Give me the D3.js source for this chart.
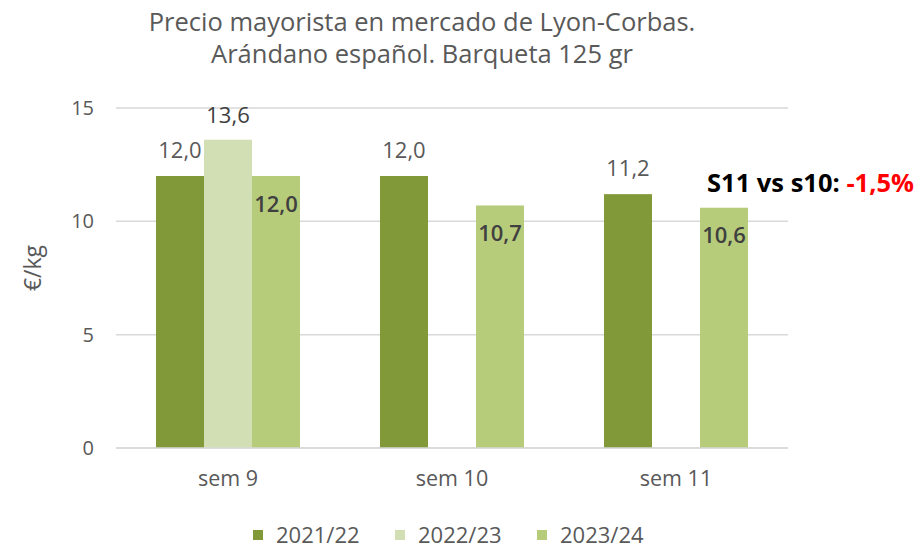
<!DOCTYPE html>
<html>
<head>
<meta charset="utf-8">
<script src="https://cdn.jsdelivr.net/npm/d3@7"></script>
<style>
  body { margin: 0; background: #fff; }
  svg { display: block; font-family: "Open Sans", "Noto Sans", sans-serif; }
</style>
</head>
<body>
<div class="chart-container"></div>
<script>
// data
const weeks = ['sem 9', 'sem 10', 'sem 11'];
const seasons = ['2021/22', '2022/23', '2023/24'];
const s2122 = [12.0, 12.0, 11.2];
const s2223 = [13.6, null, null];
const s2324 = [12.0, 10.7, 10.6];
const yTicks = [0, 5, 10, 15];
const titleLines = ['Precio mayorista en mercado de Lyon-Corbas.', 'Arándano español. Barqueta 125 gr'];

const colors = ['#82993a', '#d2deb3', '#b7cc7b'];
const seriesValues = [s2122, s2223, s2324];

const outerW = 922, outerH = 549;
const margin = { left: 116, right: 134, top: 108, bottom: 101 };
const w = outerW - margin.left - margin.right,
  h = outerH - margin.top - margin.bottom;

const fmt = v => d3.format('.1f')(v).replace('.', ',');

const svg = d3.select('.chart-container').append('svg')
  .attr('width', outerW)
  .attr('height', outerH);

// title
svg.append('g')
  .selectAll('text')
  .data(titleLines)
  .enter()
  .append('text')
  .attr('x', 422)
  .attr('y', (d, i) => 31 + i * 32)
  .attr('text-anchor', 'middle')
  .style('font-size', '25.5px')
  .style('fill', '#595959')
  .text(d => d);

const g = svg.append('g')
  .attr('transform', `translate(${margin.left}, ${margin.top})`);

const x0 = d3.scaleBand()
  .domain(weeks)
  .range([0, w])
  .paddingInner(0.357)
  .paddingOuter(0.1785);

const x1 = d3.scaleBand()
  .domain(seasons)
  .range([0, x0.bandwidth()]);

const y = d3.scaleLinear()
  .domain([0, 15])
  .range([h, 0]);

// gridlines
g.append('g')
  .selectAll('line')
  .data(yTicks)
  .enter()
  .append('line')
  .attr('x1', 0)
  .attr('x2', w)
  .attr('y1', d => y(d))
  .attr('y2', d => y(d))
  .attr('stroke', '#d9d9d9')
  .attr('stroke-width', 1.5);

// y tick labels
g.append('g')
  .selectAll('text')
  .data(yTicks)
  .enter()
  .append('text')
  .attr('x', -22)
  .attr('y', d => y(d))
  .attr('dy', '0.35em')
  .attr('text-anchor', 'end')
  .style('font-size', '20px')
  .style('fill', '#595959')
  .text(d => d);

// y axis title
svg.append('text')
  .attr('transform', `translate(41, 268) rotate(-90)`)
  .attr('text-anchor', 'middle')
  .style('font-size', '23px')
  .style('fill', '#595959')
  .text('€/kg');

// bars
const bars = [];
seasons.forEach((s, si) => {
  weeks.forEach((wk, wi) => {
    const v = seriesValues[si][wi];
    if (v != null) bars.push({ season: s, si, week: wk, value: v });
  });
});

g.append('g')
  .selectAll('rect')
  .data(bars)
  .enter()
  .append('rect')
  .attr('x', d => x0(d.week) + x1(d.season))
  .attr('y', d => y(d.value))
  .attr('width', x1.bandwidth())
  .attr('height', d => h - y(d.value))
  .attr('fill', d => colors[d.si]);

// baseline drawn over bars
g.append('line')
  .attr('x1', 0)
  .attr('x2', w)
  .attr('y1', y(0))
  .attr('y2', y(0))
  .attr('stroke', '#d9d9d9')
  .attr('stroke-width', 1.5);

// data labels
g.append('g')
  .selectAll('text')
  .data(bars)
  .enter()
  .append('text')
  .attr('x', d => x0(d.week) + x1(d.season) + x1.bandwidth() / 2)
  .attr('y', d => d.si === 2 ? y(d.value) + 28 : y(d.value) - (d.si === 0 ? 26 : 24))
  .attr('dy', '0.35em')
  .attr('text-anchor', 'middle')
  .style('font-size', '22px')
  .style('font-weight', d => d.si === 2 ? 600 : 400)
  .style('fill', d => d.si === 0 ? '#595959' : '#404040')
  .text(d => fmt(d.value));

// x labels
g.append('g')
  .selectAll('text')
  .data(weeks)
  .enter()
  .append('text')
  .attr('x', d => x0(d) + x0.bandwidth() / 2)
  .attr('y', h + 30)
  .attr('dy', '0.35em')
  .attr('text-anchor', 'middle')
  .style('font-size', '21.5px')
  .style('fill', '#595959')
  .text(d => d);

// annotation
const note = svg.append('text')
  .attr('x', 707)
  .attr('y', 192)
  .style('font-size', '25.5px')
  .style('font-weight', 700);
note.append('tspan').style('fill', '#000').text('S11 vs s10: ');
note.append('tspan').style('fill', '#ff0000').text('-1,5%');

// legend
const legendX = [253, 395, 537];
const legend = svg.append('g')
  .selectAll('g')
  .data(seasons)
  .enter()
  .append('g')
  .attr('transform', (d, i) => `translate(${legendX[i]}, 530)`);

legend.append('rect')
  .attr('width', 10)
  .attr('height', 10)
  .attr('fill', (d, i) => colors[i]);

legend.append('text')
  .attr('x', 23)
  .attr('y', 13)
  .style('font-size', '22px')
  .style('fill', '#595959')
  .text(d => d);
</script>
</body>
</html>
